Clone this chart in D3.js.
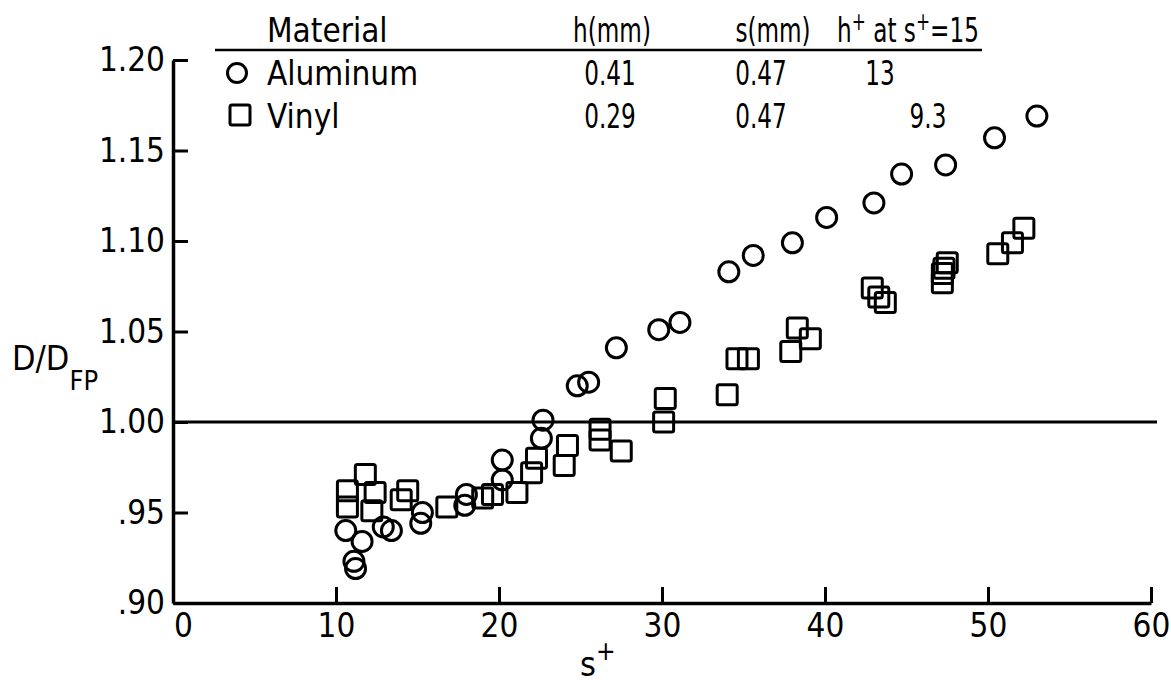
<!DOCTYPE html>
<html>
<head>
<meta charset="utf-8">
<script src="https://cdn.jsdelivr.net/npm/d3@7"></script>
<style>
body { margin: 0; background: #fff; }
text { font-family: "Liberation Sans Narrow", "DejaVu Sans Condensed", sans-serif; fill: #000; }
</style>
</head>
<body>
<script>
// values
const aluminumS = [10.6, 11.1, 11.2, 11.6, 12.9, 13.4, 15.2, 15.3, 17.9, 18.0, 20.2, 20.2, 22.6, 22.7,
                   24.8, 25.5, 27.2, 29.8, 31.1, 34.1, 35.6, 38.0, 40.1, 43.0, 44.7, 47.4, 50.4, 53.0];
const aluminumD = [0.940, 0.923, 0.919, 0.934, 0.942, 0.940, 0.944, 0.950, 0.954, 0.960, 0.968, 0.979, 0.991, 1.001,
                   1.020, 1.022, 1.041, 1.051, 1.055, 1.083, 1.092, 1.099, 1.113, 1.121, 1.137, 1.142, 1.157, 1.169];
const vinylS = [10.7, 10.7, 11.8, 12.4, 12.2, 14.0, 14.4, 16.8, 19.0, 19.6, 21.1, 22.0, 22.3, 24.0, 24.2, 26.2,
                26.2, 27.5, 30.1, 30.2, 34.0, 34.6, 35.3, 37.9, 38.3, 39.1, 42.9, 43.3, 43.7, 47.2, 47.2, 47.3,
                47.5, 50.6, 51.5, 52.2];
const vinylD = [0.962, 0.953, 0.971, 0.961, 0.951, 0.957, 0.962, 0.953, 0.958, 0.960, 0.961, 0.972, 0.980, 0.976,
                0.987, 0.990, 0.996, 0.984, 1.000, 1.013, 1.015, 1.035, 1.035, 1.039, 1.052, 1.046, 1.074, 1.069,
                1.066, 1.077, 1.082, 1.085, 1.088, 1.093, 1.099, 1.107];

const xTicks = [0, 10, 20, 30, 40, 50, 60];
const yTicks = [0.90, 0.95, 1.00, 1.05, 1.10, 1.15, 1.20];
const yTickLabels = ['.90', '.95', '1.00', '1.05', '1.10', '1.15', '1.20'];

const materials = ['Aluminum', 'Vinyl'];
const hMM = ['0.41', '0.29'];
const sMM = ['0.47', '0.47'];
const hPlus = ['13', '9.3'];

const width = 1171, height = 690;
const margin = { left: 173, right: 20, top: 60, bottom: 87 };

const x = d3.scaleLinear().domain([0, 60]).range([margin.left, width - margin.right]);
const y = d3.scaleLinear().domain([0.90, 1.20]).range([height - margin.bottom, margin.top]);

const svg = d3.select('body').append('svg')
    .attr('width', width)
    .attr('height', height);

// reference line at 1.00
svg.append('line')
    .attr('x1', x(0)).attr('x2', x(60) + 6)
    .attr('y1', y(1.0)).attr('y2', y(1.0))
    .attr('stroke', '#000').attr('stroke-width', 3);

const yAxis = svg.append('g')
    .attr('transform', `translate(${x(0)},0)`)
    .call(d3.axisLeft(y).tickValues(yTicks)
          .tickFormat((d, i) => yTickLabels[i])
          .tickSize(-15).tickSizeOuter(0).tickPadding(8));

const xAxis = svg.append('g')
    .attr('transform', `translate(0,${y(0.90)})`)
    .call(d3.axisBottom(x).tickValues(xTicks)
          .tickSize(-16).tickSizeOuter(0).tickPadding(10));

[xAxis, yAxis].forEach(g => {
    g.attr('font-size', null).attr('font-family', null);
    g.selectAll('path.domain').attr('stroke-width', 3.5);
    g.selectAll('.tick line').attr('stroke-width', 3);
    g.selectAll('.tick text').attr('font-size', 33);
});
xAxis.selectAll('.tick text').attr('dy', '0.72em')
    .attr('dx', d => d === 0 ? 10 : 0);

// axis titles
const yt = svg.append('text').attr('x', 12).attr('y', 370).attr('font-size', 34);
yt.append('tspan').text('D/D');
yt.append('tspan').attr('dy', 20).attr('font-size', 27).text('FP');

const xt = svg.append('text').attr('x', 580).attr('y', 676).attr('font-size', 34);
xt.append('tspan').text('s');
xt.append('tspan').attr('dy', -16).attr('font-size', 26).text('+');

// data marks
svg.append('g').selectAll('circle')
    .data(aluminumS)
    .enter()
    .append('circle')
    .attr('cx', d => x(d))
    .attr('cy', (d, i) => y(aluminumD[i]))
    .attr('r', 10)
    .attr('fill', 'none').attr('stroke', '#000').attr('stroke-width', 3);

svg.append('g').selectAll('rect')
    .data(vinylS)
    .enter()
    .append('rect')
    .attr('x', d => x(d) - 10)
    .attr('y', (d, i) => y(vinylD[i]) - 10)
    .attr('width', 20).attr('height', 20)
    .attr('rx', 2)
    .attr('fill', 'none').attr('stroke', '#000').attr('stroke-width', 3);

// key table; the original face is condensed, so the columns are squeezed sideways
const key = svg.append('g').attr('font-size', 33);
const narrow = 0.78;
const cell = (cx, cy) => key.append('g')
    .attr('transform', `translate(${cx},${cy}) scale(${narrow},1)`)
    .append('text').attr('text-anchor', 'middle');

key.append('text').attr('x', 267).attr('y', 42).text('Material');
cell(612, 42).text('h(mm)');
cell(773, 42).text('s(mm)');
const hp = cell(908, 42);
hp.append('tspan').text('h');
hp.append('tspan').attr('dy', -12).attr('font-size', 24).text('+');
hp.append('tspan').attr('dy', 12).text(' at s');
hp.append('tspan').attr('dy', -12).attr('font-size', 24).text('+');
hp.append('tspan').attr('dy', 12).text('=15');

key.append('line')
    .attr('x1', 215).attr('x2', 982).attr('y1', 50).attr('y2', 50)
    .attr('stroke', '#000').attr('stroke-width', 2.5);

const rowY = [85, 128];
key.append('circle').attr('cx', 237).attr('cy', rowY[0] - 12).attr('r', 9.5)
    .attr('fill', 'none').attr('stroke', '#000').attr('stroke-width', 3);
key.append('rect').attr('x', 230).attr('y', rowY[1] - 23).attr('width', 20).attr('height', 20).attr('rx', 2)
    .attr('fill', 'none').attr('stroke', '#000').attr('stroke-width', 3);

materials.forEach((m, i) => {
    key.append('text').attr('x', 267).attr('y', rowY[i]).text(m);
    cell(610, rowY[i]).text(hMM[i]);
    cell(761, rowY[i]).text(sMM[i]);
});
cell(880, rowY[0]).text(hPlus[0]);
cell(928, rowY[1]).text(hPlus[1]);
</script>
</body>
</html>
